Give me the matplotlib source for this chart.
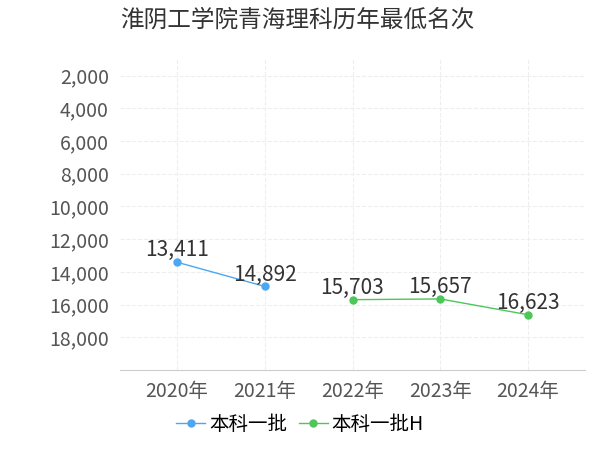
import matplotlib.pyplot as plt

plt.rcParams['font.family'] = ['Noto Sans CJK SC', 'DejaVu Sans']

years = ['2020年', '2021年', '2022年', '2023年', '2024年']
batch1_x = [0, 1]
batch1_vals = [13411, 14892]
batchH_x = [2, 3, 4]
batchH_vals = [15703, 15657, 16623]
yticks = [2000, 4000, 6000, 8000, 10000, 12000, 14000, 16000, 18000]

fig = plt.figure(figsize=(6, 4.5), dpi=100)
ax = fig.add_axes([0.2, 0.178, 0.775, 0.69])

ax.plot(batch1_x, batch1_vals, color='#4da6f0', marker='o', markersize=5, lw=1, label='本科一批')
ax.plot(batchH_x, batchH_vals, color='#4dc65a', marker='o', markersize=5, lw=1, label='本科一批H')
for x, v in zip(batch1_x + batchH_x, batch1_vals + batchH_vals):
    ax.text(x, v - 50, f'{v:,}', ha='center', va='bottom', fontsize=15, color='#333333')

ax.set_xlim(-0.65, 4.65)
ax.set_ylim(20000, 1000)
ax.set_xticks(range(len(years)))
ax.set_xticklabels(years)
ax.set_yticks(yticks)
ax.set_yticklabels([f'{t:,}' for t in yticks])
ax.tick_params(labelsize=14, colors='#555555', length=0, pad=8)
ax.grid(True, color='#eeeeee', ls='--', lw=0.8)
for s in ['top', 'right', 'left']:
    ax.spines[s].set_visible(False)
ax.spines['bottom'].set_color('#cccccc')

fig.text(0.2, 0.955, '淮阴工学院青海理科历年最低名次', fontsize=17, color='#333333', va='center')
fig.legend(loc='lower center', bbox_to_anchor=(0.5, -0.005), ncol=2, frameon=False,
           fontsize=14, handlelength=1.5, handletextpad=0.2, columnspacing=0.6)

fig.savefig('out.png')
